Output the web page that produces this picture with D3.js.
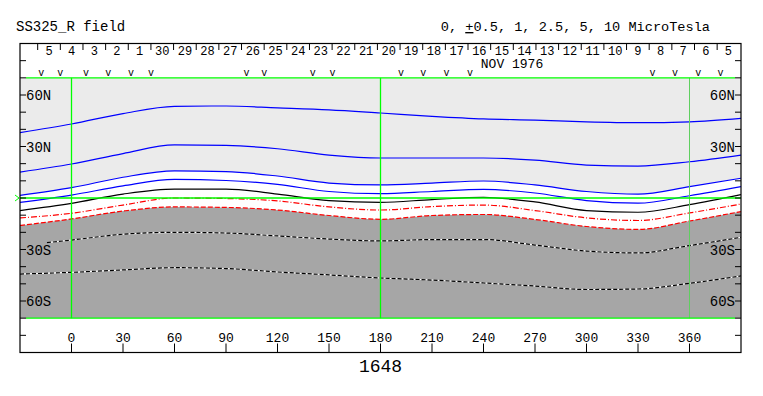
<!DOCTYPE html>
<html>
<head>
<meta charset="utf-8">
<script src="https://cdn.jsdelivr.net/npm/d3@7"></script>
<style>
  body { margin: 0; background: #fff; }
  text { font-family: "Liberation Mono", "DejaVu Sans Mono", monospace; fill: #000; }
</style>
</head>
<body>
<svg id="chart" width="763" height="396"></svg>
<script>
// Carrington rotation 1648, source surface field contours (lat per longitude)
var lons  = [-30, 0, 30, 60, 90, 120, 150, 180, 210, 240, 270, 300, 330, 360, 390];
var pos5  = [38.1, 43.1, 49.2, 53.4, 53.6, 52.5, 51.3, 49.5, 47.6, 46.1, 45.4, 44.4, 43.9, 44.4, 46.4];
var pos25 = [15.1, 19.8, 25.9, 30.9, 30.6, 28.7, 25.0, 23.3, 23.3, 23.3, 22.1, 19.2, 18.6, 21.1, 25.0];
var pos1  = [1.5, 6.0, 12.1, 15.8, 15.4, 12.8, 8.7, 7.6, 8.7, 9.9, 7.6, 3.8, 2.2, 6.6, 11.5];
var pos05 = [-2.6, 1.7, 7.1, 10.8, 10.2, 7.9, 3.8, 2.5, 3.8, 5.0, 2.9, -1.5, -3.0, 1.3, 6.6];
var zero  = [-7.3, -3.1, 2.3, 5.2, 5.2, 2.3, -1.5, -2.5, -0.9, 0.4, -2.3, -7.3, -8.3, -3.9, 2.0];
var neg05 = [-11.6, -8.9, -4.1, 0.0, -0.3, -1.7, -5.2, -7.0, -5.0, -4.1, -7.3, -11.6, -13.1, -8.7, -3.5];
var neg1  = [-16.0, -12.2, -7.6, -5.2, -5.5, -7.0, -10.2, -12.4, -10.2, -9.6, -12.5, -16.6, -18.3, -13.4, -7.9];
var neg25Lons = [-14.3, 0, 30, 60, 90, 120, 150, 180, 210, 240, 270, 300, 330, 360, 390];
var neg25 = [-26.0, -24.5, -21.1, -20.0, -20.4, -22.1, -23.9, -25.0, -24.2, -24.2, -27.4, -30.9, -32.0, -27.7, -22.9];
var neg5  = [-44.3, -43.3, -41.9, -40.6, -41.1, -43.1, -44.8, -46.6, -47.8, -49.5, -51.3, -53.3, -53.0, -49.7, -45.4];

// header: days (Dec 5 back to Nov 5) and observation marks
var dayLabels = ["5","4","3","2","1","30","29","28","27","26","25","24","23","22","21",
                 "20","19","18","17","16","15","14","13","12","11","10","9","8","7","6","5"];
var dayLonRange = [-19.7, 389.3];
var obsLons = [-17.6, -6.5, 8.4, 21.4, 34.7, 46.3, 102.0, 112.3, 140.5, 152.1,
               191.9, 204.9, 218.5, 232.1, 338.5, 351.5, 365.1, 378.1];

var lonTicks = [0, 30, 60, 90, 120, 150, 180, 210, 240, 270, 300, 330, 360];
var latTicks = [-80, -70, -60, -50, -40, -30, -20, -10, 0, 10, 20, 30, 40, 50, 60, 70, 80];
var latLabels = [60, 30, -30, -60];
var greenLons = [0, 180, 360];

var svg = d3.select("#chart");
var x = d3.scaleLinear().domain([-30, 390]).range([20, 741]);
var y = d3.scaleLinear().domain([90, -90]).range([43.5, 352.5]);

function pts(ls, vs) { return ls.map(function(l, i) { return [l, vs[i]]; }); }

var line = d3.line().x(function(d) { return x(d[0]); }).y(function(d) { return y(d[1]); })
  .curve(d3.curveMonotoneX);
var below = d3.area().x(function(d) { return x(d[0]); }).y0(y(-70)).y1(function(d) { return y(d[1]); })
  .curve(d3.curveMonotoneX);

var plot = svg.append("g");
plot.append("clipPath").attr("id", "clip").append("rect")
  .attr("x", x(-30)).attr("y", y(70)).attr("width", x(390) - x(-30)).attr("height", y(-70) - y(70));
plot.attr("clip-path", "url(#clip)");

// polarity fills
plot.append("rect")
  .attr("x", x(-30)).attr("y", y(70)).attr("width", x(390) - x(-30)).attr("height", y(-70) - y(70))
  .attr("fill", "#ebebeb");
plot.append("path").attr("d", below(pts(lons, pos1))).attr("fill", "#fff");
plot.append("path").attr("d", below(pts(lons, neg1))).attr("fill", "#a6a6a6");

// contours
[pos5, pos25, pos1, pos05].forEach(function(v) {
  plot.append("path").attr("d", line(pts(lons, v)))
    .attr("fill", "none").attr("stroke", "#0000ff").attr("stroke-width", 1.2);
});
plot.append("path").attr("d", line(pts(lons, zero)))
  .attr("fill", "none").attr("stroke", "#000").attr("stroke-width", 1.2);
plot.append("path").attr("d", line(pts(lons, neg05)))
  .attr("fill", "none").attr("stroke", "#ff0000").attr("stroke-width", 1.2)
  .attr("stroke-dasharray", "6,2,1,2");
plot.append("path").attr("d", line(pts(lons, neg1)))
  .attr("fill", "none").attr("stroke", "#ff0000").attr("stroke-width", 1.2)
  .attr("stroke-dasharray", "5,2");
[[neg25Lons, neg25], [lons, neg5]].forEach(function(s) {
  var d = line(pts(s[0], s[1]));
  plot.append("path").attr("d", d).attr("fill", "none").attr("stroke", "#fff").attr("stroke-width", 1.1);
  plot.append("path").attr("d", d).attr("fill", "none").attr("stroke", "#000").attr("stroke-width", 1.2)
    .attr("stroke-dasharray", "4,2");
});

// green reference lines
greenLons.forEach(function(l) {
  svg.append("line")
    .attr("x1", x(l)).attr("x2", x(l)).attr("y1", y(70)).attr("y2", y(-70))
    .attr("stroke", l === 360 ? "#5fcf5f" : "#00ff00").attr("stroke-width", l === 360 ? 1 : 1.3);
});
[70, -70].forEach(function(l) {
  svg.append("line")
    .attr("x1", x(-30) + 6).attr("x2", x(390) - 6).attr("y1", y(l)).attr("y2", y(l))
    .attr("stroke", "#00ff00").attr("stroke-width", 1.3);
});
svg.append("line")
  .attr("x1", x(-30)).attr("x2", x(390)).attr("y1", y(0)).attr("y2", y(0))
  .attr("stroke", "#00ff00").attr("stroke-width", 1.3);
svg.append("path")
  .attr("d", "M" + (x(-30) - 5) + "," + (y(0) - 3) + "L" + (x(-30) - 1) + "," + y(0) + "L" + (x(-30) - 5) + "," + (y(0) + 3))
  .attr("fill", "none").attr("stroke", "#00ff00").attr("stroke-width", 1);

// frame
svg.append("rect")
  .attr("x", x(-30)).attr("y", y(90)).attr("width", x(390) - x(-30)).attr("height", y(-90) - y(90))
  .attr("fill", "none").attr("stroke", "#000").attr("stroke-width", 1.2);

// latitude ticks and labels both sides
latTicks.forEach(function(l) {
  svg.append("line").attr("x1", x(-30)).attr("x2", x(-30) + 6).attr("y1", y(l)).attr("y2", y(l))
    .attr("stroke", "#000");
  svg.append("line").attr("x1", x(390) - 6).attr("x2", x(390)).attr("y1", y(l)).attr("y2", y(l))
    .attr("stroke", "#000");
});
latLabels.forEach(function(l) {
  var t = Math.abs(l) + (l > 0 ? "N" : "S");
  svg.append("text").attr("x", x(-30) + 6).attr("y", y(l) + 5).attr("font-size", 14).text(t);
  svg.append("text").attr("x", x(390) - 6).attr("y", y(l) + 5).attr("font-size", 14)
    .attr("text-anchor", "end").text(t);
});

// longitude ticks and labels
lonTicks.forEach(function(l) {
  svg.append("line").attr("x1", x(l)).attr("x2", x(l)).attr("y1", y(-90)).attr("y2", y(-90) - 9)
    .attr("stroke", "#000");
  svg.append("text").attr("x", x(l)).attr("y", 342).attr("font-size", 13)
    .attr("text-anchor", "middle").text(l);
});
svg.append("text").attr("x", x(180)).attr("y", 372).attr("font-size", 18)
  .attr("text-anchor", "middle").text("1648");

// header: day boxes
var days = d3.scaleBand().domain(d3.range(dayLabels.length)).range(dayLonRange.map(x));
dayLabels.forEach(function(lab, i) {
  svg.append("line").attr("x1", days(i)).attr("x2", days(i)).attr("y1", 44).attr("y2", 50)
    .attr("stroke", "#000");
  svg.append("text").attr("x", days(i) + days.bandwidth() / 2).attr("y", 54.5).attr("font-size", 12)
    .attr("text-anchor", "middle").text(lab);
});
svg.append("text").attr("x", 512).attr("y", 68).attr("font-size", 13)
  .attr("text-anchor", "middle").text("NOV 1976");
obsLons.forEach(function(l) {
  svg.append("text").attr("x", x(l)).attr("y", 76).attr("font-size", 10)
    .attr("text-anchor", "middle").text("v");
});

// titles
svg.append("text").attr("x", 16).attr("y", 31).attr("font-size", 14).text("SS325_R field");
var leg = svg.append("text").attr("x", 710).attr("y", 31).attr("font-size", 13.6).attr("text-anchor", "end");
leg.append("tspan").text("0, ");
leg.append("tspan").attr("text-decoration", "underline").text("+");
leg.append("tspan").text("0.5, 1, 2.5, 5, 10 MicroTesla");
</script>
</body>
</html>
